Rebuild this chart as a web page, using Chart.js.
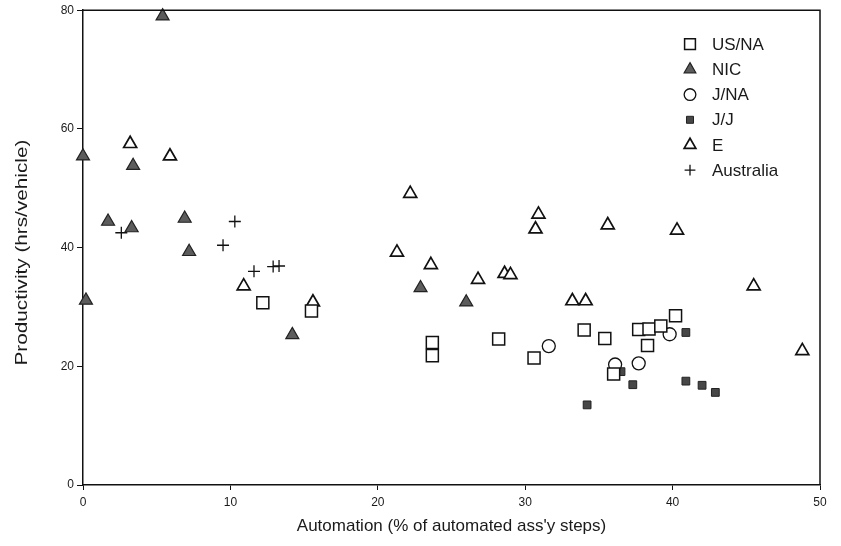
<!DOCTYPE html>
<html>
<head>
<meta charset="utf-8">
<script src="https://cdn.jsdelivr.net/npm/chart.js@4/dist/chart.umd.min.js"></script>
<style>
html,body{margin:0;padding:0;background:#fff;}
#wrap{width:841px;height:546px;}
</style>
</head>
<body>
<div id="wrap"><canvas id="c" width="841" height="546"></canvas></div>
<script>
// ---- Data ----
const seriesNames = ['US/NA', 'NIC', 'J/NA', 'J/J', 'E', 'Australia'];

const usnaX = [12.2, 15.5, 23.7, 23.7, 28.2, 30.6, 34.0, 35.4, 37.7, 38.4, 39.2, 40.2, 38.3, 36.0];
const usnaY = [30.7, 29.3, 24.0, 21.8, 24.6, 21.4, 26.1, 24.7, 26.2, 26.3, 26.8, 28.5, 23.5, 18.7];

const nicX = [5.4, 0.0, 3.4, 1.7, 3.3, 6.9, 7.2, 0.2, 14.2, 22.9, 26.0];
const nicY = [79.0, 55.4, 53.8, 44.4, 43.3, 44.9, 39.3, 31.1, 25.3, 33.2, 30.8];

const jnaX = [31.6, 39.8, 36.1, 37.7];
const jnaY = [23.4, 25.4, 20.3, 20.5];

const jjX = [40.9, 36.5, 37.3, 40.9, 42.0, 42.9, 34.2];
const jjY = [25.7, 19.1, 16.9, 17.5, 16.8, 15.6, 13.5];

const eX = [3.2, 5.9, 10.9, 15.6, 22.2, 21.3, 23.6, 26.8, 28.6, 29.0, 30.9, 30.7, 33.2, 34.1, 35.6, 40.3, 45.5, 48.8];
const eY = [57.5, 55.4, 33.5, 30.8, 49.1, 39.2, 37.1, 34.6, 35.6, 35.4, 45.6, 43.1, 31.0, 31.0, 43.8, 42.9, 33.5, 22.6];

const ausX = [2.6, 9.5, 10.3, 11.6, 12.9, 13.3];
const ausY = [42.5, 40.4, 44.4, 36.0, 36.8, 36.9];

const xTicks = [0, 10, 20, 30, 40, 50];
const yTicks = [0, 20, 40, 60, 80];

const xTitle = 'Automation (% of automated ass\'y steps)';
const yTitle = 'Productivity (hrs/vehicle)';

// ---- Build ----
function pts(xs, ys) { return xs.map((x, i) => ({ x: x, y: ys[i] })); }

const FONT = '"Liberation Sans", Arial, Helvetica, sans-serif';
const INK = '#111';
const TXT = '#1a1a1a';

const styles = [
  { pointStyle: 'rect',     radius: 8.5, bg: '#ffffff', border: INK,    bw: 1.5 },
  { pointStyle: 'triangle', radius: 7.5, bg: '#5c5c5c', border: '#222', bw: 1.2 },
  { pointStyle: 'circle',   radius: 6.5, bg: '#ffffff', border: INK,    bw: 1.3 },
  { pointStyle: 'rect',     radius: 5.5, bg: '#474747', border: '#222', bw: 1.0 },
  { pointStyle: 'triangle', radius: 7.5, bg: '#ffffff', border: INK,    bw: 1.7 },
  { pointStyle: 'cross',    radius: 6,   bg: INK,       border: INK,    bw: 1.3 }
];
const seriesData = [
  pts(usnaX, usnaY), pts(nicX, nicY), pts(jnaX, jnaY),
  pts(jjX, jjY), pts(eX, eY), pts(ausX, ausY)
];

const datasets = seriesNames.map((name, i) => ({
  label: name,
  data: seriesData[i],
  pointStyle: styles[i].pointStyle,
  pointRadius: styles[i].radius,
  backgroundColor: styles[i].bg,
  borderColor: styles[i].border,
  borderWidth: styles[i].bw,
  clip: false
}));

const framePlugin = {
  id: 'frame',
  afterDatasetsDraw(chart) {
    const { ctx, chartArea: a } = chart;
    ctx.save();
    ctx.strokeStyle = INK;
    ctx.lineWidth = 1.5;
    ctx.beginPath();
    ctx.moveTo(a.left, a.top);
    ctx.lineTo(a.right, a.top);
    ctx.lineTo(a.right, a.bottom);
    ctx.stroke();
    ctx.restore();
  }
};

// y-axis title, drawn stretched along its length like the scanned original
const yTitlePlugin = {
  id: 'yTitle',
  afterDraw(chart) {
    const { ctx, chartArea: a } = chart;
    ctx.save();
    ctx.translate(22, (a.top + a.bottom) / 2 + 5);
    ctx.rotate(-Math.PI / 2);
    ctx.scale(1.22, 1);
    ctx.font = '17px ' + FONT;
    ctx.fillStyle = TXT;
    ctx.textAlign = 'center';
    ctx.textBaseline = 'middle';
    ctx.fillText(yTitle, 0, 0);
    ctx.restore();
  }
};

const legendPlugin = {
  id: 'insideLegend',
  afterDraw(chart) {
    const { ctx, chartArea: a } = chart;
    ctx.save();
    const x0 = a.right - 130;
    chart.data.datasets.forEach((ds, i) => {
      const y = a.top + 34 + i * 25.2;
      ctx.fillStyle = ds.backgroundColor;
      ctx.strokeStyle = ds.borderColor;
      ctx.lineWidth = ds.borderWidth;
      const opts = { pointStyle: ds.pointStyle, radius: ds.pointRadius * 0.9, rotation: 0, borderWidth: ds.borderWidth };
      if (Chart.helpers && Chart.helpers.drawPoint) {
        Chart.helpers.drawPoint(ctx, opts, x0, y);
      }
      ctx.fillStyle = TXT;
      ctx.font = '17px ' + FONT;
      ctx.textBaseline = 'middle';
      ctx.textAlign = 'left';
      ctx.fillText(ds.label, x0 + 22, y + 1);
    });
    ctx.restore();
  }
};

new Chart(document.getElementById('c'), {
  type: 'scatter',
  data: { datasets: datasets },
  options: {
    responsive: false,
    devicePixelRatio: 1,
    animation: false,
    events: [],
    layout: { padding: { left: 10, top: 10, right: 21, bottom: 8 } },
    plugins: { legend: { display: false }, tooltip: { enabled: false } },
    scales: {
      x: {
        type: 'linear',
        min: 0, max: 50,
        afterBuildTicks(scale) { scale.ticks = xTicks.map(v => ({ value: v })); },
        afterFit(scale) { scale.height = 53; },
        grid: { drawOnChartArea: false, drawTicks: true, tickLength: 5, color: INK, lineWidth: 1 },
        border: { display: true, color: INK, width: 1.5 },
        ticks: { color: TXT, font: { family: FONT, size: 12 }, padding: 5, maxRotation: 0 },
        title: { display: true, text: xTitle, color: TXT, font: { family: FONT, size: 17 }, padding: { top: 2, bottom: 1 } }
      },
      y: {
        type: 'linear',
        min: 0, max: 80,
        afterBuildTicks(scale) { scale.ticks = yTicks.map(v => ({ value: v })); },
        afterFit(scale) { scale.width = 73; },
        grid: { drawOnChartArea: false, drawTicks: true, tickLength: 6, color: INK, lineWidth: 1 },
        border: { display: true, color: INK, width: 1.5 },
        ticks: { color: TXT, font: { family: FONT, size: 12 }, padding: 3 },
        title: { display: false }
      }
    }
  },
  plugins: [framePlugin, yTitlePlugin, legendPlugin]
});
</script>
</body>
</html>
